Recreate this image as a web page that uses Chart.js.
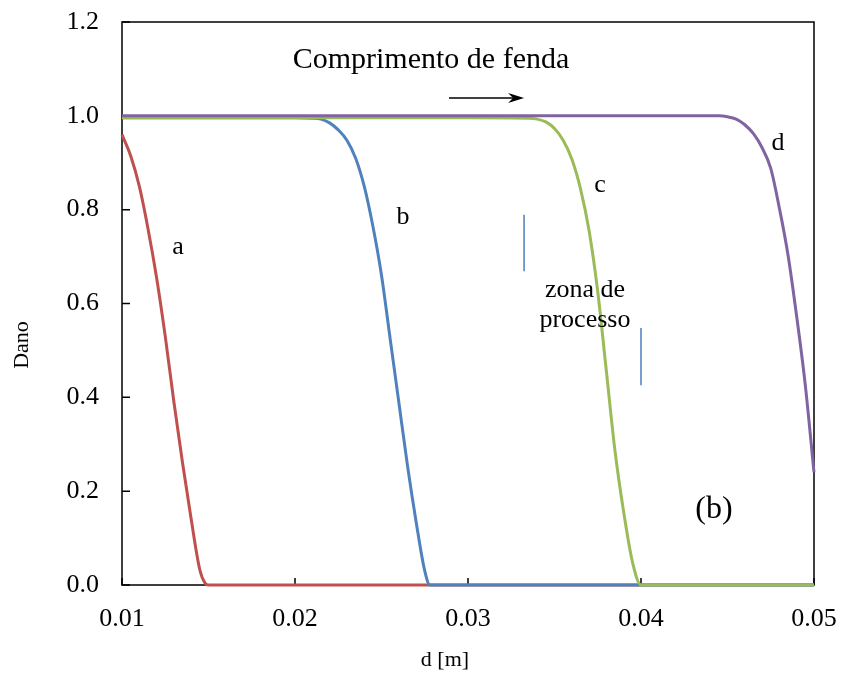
<!DOCTYPE html>
<html>
<head>
<meta charset="utf-8">
<script src="https://cdn.jsdelivr.net/npm/chart.js@4.4.0/dist/chart.umd.min.js"></script>
<style>
  html, body { margin: 0; padding: 0; background: #fff; }
  #wrap { width: 841px; height: 689px; }
</style>
</head>
<body>
<div id="wrap"><canvas id="dano" width="841" height="689"></canvas></div>
<script>
// curva a
const xA = [0.0100, 0.0105, 0.0110, 0.0115, 0.0120, 0.0125, 0.0130, 0.0135, 0.0140, 0.0145, 0.0148, 0.0150, 0.0200, 0.0300, 0.0400, 0.0500];
const yA = [0.96, 0.915, 0.85, 0.76, 0.655, 0.53, 0.39, 0.26, 0.14, 0.032, 0.004, 0, 0, 0, 0, 0];
// curva b
const xB = [0.0100, 0.0200, 0.0210, 0.0215, 0.0220, 0.0225, 0.0230, 0.0235, 0.0240, 0.0245, 0.0250, 0.0255, 0.0260, 0.0265, 0.0270, 0.0275, 0.0278, 0.0300, 0.0400, 0.0500];
const yB = [0.996, 0.996, 0.995, 0.993, 0.985, 0.97, 0.948, 0.91, 0.85, 0.765, 0.66, 0.525, 0.39, 0.255, 0.135, 0.03, 0, 0, 0, 0];
// curva c
const xC = [0.0100, 0.0300, 0.0335, 0.0340, 0.0345, 0.0350, 0.0355, 0.0360, 0.0365, 0.0370, 0.0375, 0.0380, 0.0385, 0.0390, 0.0395, 0.0400, 0.0450, 0.0500];
const yC = [0.996, 0.996, 0.995, 0.993, 0.987, 0.973, 0.948, 0.908, 0.845, 0.755, 0.625, 0.455, 0.285, 0.155, 0.05, 0, 0, 0];
// curva d
const xD = [0.0100, 0.0445, 0.0450, 0.0455, 0.0460, 0.0465, 0.0470, 0.0475, 0.0480, 0.0485, 0.0490, 0.0495, 0.0500];
const yD = [1.0, 1.0, 0.998, 0.993, 0.981, 0.962, 0.932, 0.888, 0.803, 0.703, 0.572, 0.425, 0.24];
// limites da zona de processo
const zonaIniX = [0.03324, 0.03324];
const zonaIniY = [0.669, 0.789];
const zonaFimX = [0.0400, 0.0400];
const zonaFimY = [0.426, 0.548];

const serif = '"Liberation Serif", "Times New Roman", serif';
const pts = (xs, ys) => xs.map((x, i) => ({ x, y: ys[i] }));

function curva(xs, ys, cor, ordem) {
  return {
    data: pts(xs, ys),
    borderColor: cor,
    borderWidth: 3,
    pointRadius: 0,
    cubicInterpolationMode: 'monotone',
    clip: false,
    order: ordem
  };
}

function traco(xs, ys) {
  return { data: pts(xs, ys), borderColor: '#4A7EBB', borderWidth: 1.5, pointRadius: 0, order: 0 };
}

// textos dentro do gráfico, em coordenadas dos eixos
const notas = [
  { t: 'Comprimento de fenda', x: 0.02786, y: 1.119, s: 30 },
  { t: 'a', x: 0.01324, y: 0.720, s: 26 },
  { t: 'b', x: 0.02624, y: 0.784, s: 26 },
  { t: 'c', x: 0.03763, y: 0.853, s: 26 },
  { t: 'd', x: 0.04792, y: 0.942, s: 26 },
  { t: 'zona de', x: 0.03676, y: 0.629, s: 26 },
  { t: 'processo', x: 0.03676, y: 0.565, s: 26 },
  { t: '(b)', x: 0.04422, y: 0.160, s: 32 }
];

const moldura = {
  id: 'moldura',
  beforeDatasetsDraw(chart) {
    const { ctx, chartArea: a, scales: { x, y } } = chart;
    ctx.save();
    ctx.strokeStyle = '#000';
    ctx.lineWidth = 1.5;
    ctx.strokeRect(a.left, a.top, a.right - a.left, a.bottom - a.top);
    ctx.beginPath();
    y.ticks.forEach(t => { const py = y.getPixelForValue(t.value); ctx.moveTo(a.left, py); ctx.lineTo(a.left + 8, py); });
    x.ticks.forEach(t => { const px = x.getPixelForValue(t.value); ctx.moveTo(px, a.bottom); ctx.lineTo(px, a.bottom - 7); });
    ctx.stroke();
    ctx.restore();
  },
  afterDatasetsDraw(chart) {
    const { ctx, chartArea: a, scales: { x, y } } = chart;
    ctx.save();
    ctx.fillStyle = '#000';
    ctx.textAlign = 'center';
    ctx.textBaseline = 'middle';
    notas.forEach(n => {
      ctx.font = n.s + 'px ' + serif;
      ctx.fillText(n.t, x.getPixelForValue(n.x), y.getPixelForValue(n.y));
    });

    // seta
    const x0 = x.getPixelForValue(0.0289), x1 = x.getPixelForValue(0.03324), ys = y.getPixelForValue(1.038);
    ctx.strokeStyle = '#000';
    ctx.lineWidth = 1.5;
    ctx.beginPath();
    ctx.moveTo(x0, ys);
    ctx.lineTo(x1 - 8, ys);
    ctx.stroke();
    ctx.beginPath();
    ctx.moveTo(x1, ys);
    ctx.lineTo(x1 - 16, ys - 5);
    ctx.lineTo(x1 - 11, ys);
    ctx.lineTo(x1 - 16, ys + 5);
    ctx.closePath();
    ctx.fill();

    // títulos dos eixos
    ctx.font = '22px ' + serif;
    ctx.fillText('d [m]', (a.left + a.right) / 2 - 23, 660);
    ctx.translate(22, 345);
    ctx.rotate(-Math.PI / 2);
    ctx.fillText('Dano', 0, 0);
    ctx.restore();
  }
};

// sem folgas automáticas: a área do gráfico fica só com o padding do layout
function semFolga(s) {
  s.paddingLeft = 0; s.paddingRight = 0; s.paddingTop = 0; s.paddingBottom = 0;
}

new Chart(document.getElementById('dano'), {
  type: 'line',
  data: {
    datasets: [
      curva(xA, yA, '#C0504D', 4),
      curva(xB, yB, '#4F81BD', 3),
      curva(xC, yC, '#9BBB59', 2),
      curva(xD, yD, '#8064A2', 1),
      traco(zonaIniX, zonaIniY),
      traco(zonaFimX, zonaFimY)
    ]
  },
  options: {
    responsive: false,
    animation: false,
    layout: { padding: { top: 22, right: 27, left: 0, bottom: 0 } },
    plugins: { legend: { display: false }, tooltip: { enabled: false } },
    scales: {
      x: {
        type: 'linear', min: 0.01, max: 0.05,
        grid: { display: false, drawTicks: false },
        border: { display: false },
        ticks: { stepSize: 0.01, padding: 19, color: '#000', font: { family: serif, size: 26 }, callback: v => v.toFixed(2) },
        afterFit: s => { s.height = 104; semFolga(s); }
      },
      y: {
        min: 0, max: 1.2,
        grid: { display: false, drawTicks: false },
        border: { display: false },
        ticks: { stepSize: 0.2, padding: 23, color: '#000', font: { family: serif, size: 26 }, callback: v => v.toFixed(1) },
        afterFit: s => { s.width = 122; semFolga(s); }
      }
    }
  },
  plugins: [moldura]
});
</script>
</body>
</html>
